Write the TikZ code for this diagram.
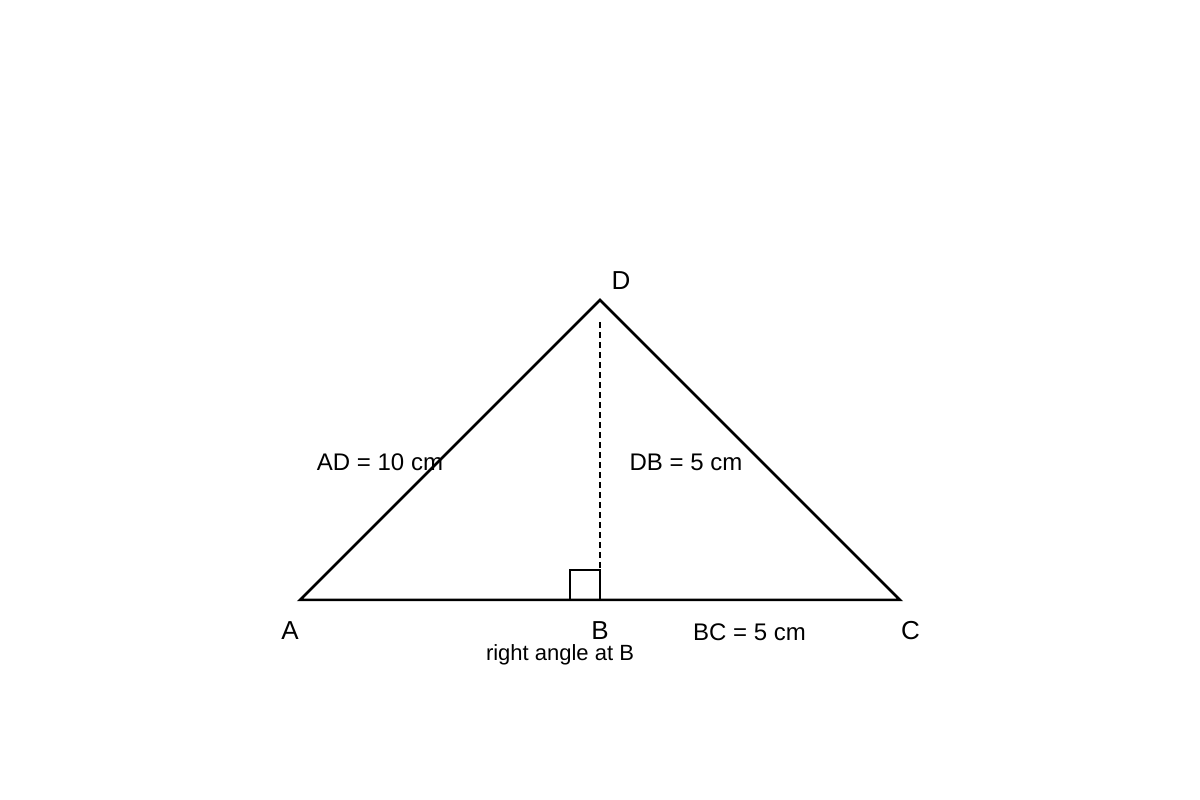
\documentclass[tikz,border=0pt]{standalone}
\usepackage{fontspec}
\setmainfont{Liberation Sans}
\begin{document}
\begin{tikzpicture}[x=1pt,y=1pt,
  side/.style={line width=2.5pt,line join=miter},
  big/.style={font=\fontsize{26}{26}\selectfont,anchor=base,inner sep=0pt},
  mid/.style={font=\fontsize{24}{24}\selectfont,anchor=base,inner sep=0pt},
  small/.style={font=\fontsize{22}{22}\selectfont,anchor=base,inner sep=0pt}]
\useasboundingbox[fill=white] (0,0) rectangle (1200,800);
\coordinate (A) at (300,200);
\coordinate (B) at (600,200);
\coordinate (C) at (900,200);
\coordinate (D) at (600,500);
\coordinate (Dt) at (600,478);
\coordinate (Bt) at (600,230);
\coordinate (Q1) at (570,200);
\coordinate (Q2) at (570,230);
\draw[side] (A) -- (C) -- (D) -- cycle;
\draw[line width=1.5pt,dash pattern=on 6pt off 4pt] (Dt) -- (Bt);
\draw[line width=1.5pt] (Q1) -- (Q2) -- (Bt) -- (B);
\node[big] (lD) at (621,510.2) {D};
\node[big] (lA) at (290,160) {A};
\node[big] (lB) at (600,160.2) {B};
\node[big] (lC) at (910.5,160) {C};
\node[mid] (lAD) at (380,329.2) {AD = 10 cm};
\node[mid] (lDB) at (686,329.5) {DB = 5 cm};
\node[mid] (lBC) at (749.5,159.5) {BC = 5 cm};
\node[small] (lR) at (560,139.5) {right angle at B};
\end{tikzpicture}
\end{document}
